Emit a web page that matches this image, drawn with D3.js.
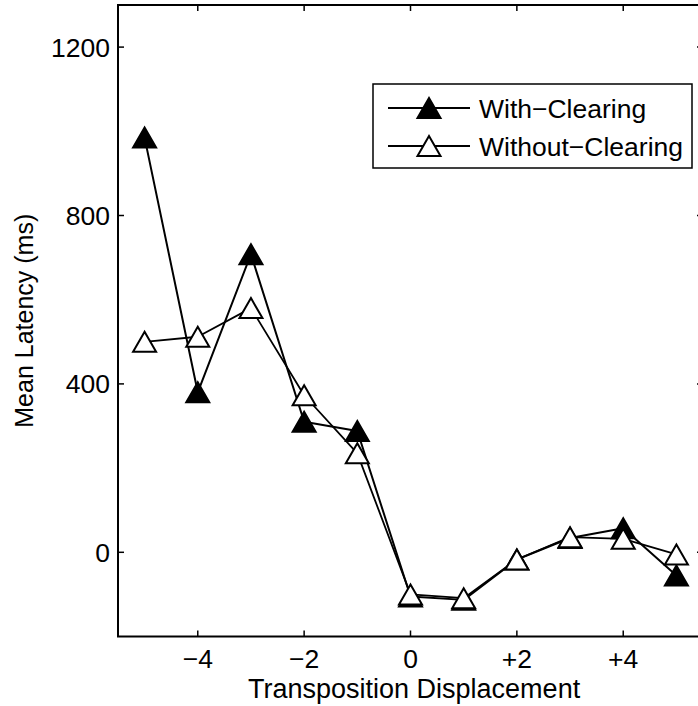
<!DOCTYPE html>
<html>
<head>
<meta charset="utf-8">
<script src="https://cdn.jsdelivr.net/npm/d3@7"></script>
<style>
  html, body { margin: 0; padding: 0; background: #fff; }
  svg { display: block; }
  text { font-family: "Liberation Sans", Arial, Helvetica, sans-serif; fill: #000; }
</style>
</head>
<body>
<svg id="chart" width="698" height="706"></svg>
<script>
// Transposition displacement (x) and mean latency in ms for each condition
const displacement = [-5, -4, -3, -2, -1, 0, 1, 2, 3, 4, 5];
const withClearing = [985, 380, 708, 310, 288, -105, -113, -17, 34, 57, -55];
const withoutClearing = [500, 512, 580, 373, 235, -100, -109, -17, 36, 32, -5];

const xTickValues = [-4, -2, 0, 2, 4];
const xTickLabels = ["\u22124", "\u22122", "0", "+2", "+4"];
const yTickValues = [0, 400, 800, 1200];

const seriesNames = ["With\u2212Clearing", "Without\u2212Clearing"];

const svg = d3.select("#chart");

const plotLeft = 118, plotRight = 703, plotTop = 5, plotBottom = 636.5;
const x = d3.scaleLinear().domain([-5.5, 5.5]).range([plotLeft, plotRight]);
const y = d3.scaleLinear().domain([-200, 1300]).range([plotBottom, plotTop]);

const fontSize = 26.5;
const tickLen = 6;

// Axis box
svg.append("rect")
  .attr("x", plotLeft).attr("y", plotTop)
  .attr("width", plotRight - plotLeft).attr("height", plotBottom - plotTop)
  .attr("fill", "none").attr("stroke", "#000").attr("stroke-width", 2);

// Inward ticks on all four sides
const ticks = svg.append("g").attr("stroke", "#000").attr("stroke-width", 1.5);
xTickValues.forEach(v => {
  ticks.append("line").attr("x1", x(v)).attr("x2", x(v)).attr("y1", plotBottom).attr("y2", plotBottom - tickLen);
  ticks.append("line").attr("x1", x(v)).attr("x2", x(v)).attr("y1", plotTop).attr("y2", plotTop + tickLen);
});
yTickValues.forEach(v => {
  ticks.append("line").attr("x1", plotLeft).attr("x2", plotLeft + tickLen).attr("y1", y(v)).attr("y2", y(v));
  ticks.append("line").attr("x1", plotRight).attr("x2", plotRight - tickLen).attr("y1", y(v)).attr("y2", y(v));
});

// Tick labels
svg.append("g").selectAll("text").data(xTickValues).join("text")
  .attr("x", d => x(d)).attr("y", 668)
  .attr("text-anchor", "middle").attr("font-size", fontSize)
  .text((d, i) => xTickLabels[i]);

svg.append("g").selectAll("text").data(yTickValues).join("text")
  .attr("x", 110).attr("y", d => y(d) + 9.5)
  .attr("text-anchor", "end").attr("font-size", fontSize)
  .text(d => d);

// Axis titles
svg.append("text")
  .attr("x", 248).attr("y", 698)
  .attr("font-size", 27)
  .text("Transposition Displacement");

svg.append("text")
  .attr("transform", `translate(33, ${(plotTop + plotBottom) / 2}) rotate(-90)`)
  .attr("text-anchor", "middle").attr("font-size", 25)
  .text("Mean Latency (ms)");

// Triangle marker centred on its point
const triHalfW = 11.5, triHalfH = 10;
const tri = `M0,${-triHalfH}L${triHalfW},${triHalfH}L${-triHalfW},${triHalfH}Z`;

const line = d3.line().x(d => x(d[0])).y(d => y(d[1]));

function drawSeries(values, fill, width) {
  const pts = displacement.map((d, i) => [d, values[i]]);
  const g = svg.append("g");
  g.append("path").attr("d", line(pts))
    .attr("fill", "none").attr("stroke", "#000").attr("stroke-width", width)
    .attr("stroke-linejoin", "round");
  g.selectAll("path.m").data(pts).join("path").attr("class", "m")
    .attr("d", tri)
    .attr("transform", d => `translate(${x(d[0])},${y(d[1])})`)
    .attr("fill", fill).attr("stroke", "#000").attr("stroke-width", 2)
    .attr("stroke-linejoin", "miter");
}

drawSeries(withClearing, "#000", 2);
drawSeries(withoutClearing, "#fff", 1.8);

// Legend
const lg = svg.append("g");
lg.append("rect")
  .attr("x", 373).attr("y", 84).attr("width", 319).attr("height", 84)
  .attr("fill", "#fff").attr("stroke", "#000").attr("stroke-width", 1.5);
const rows = [[108, "#000", 2], [146, "#fff", 1.8]];
rows.forEach(([ry, fill, w], i) => {
  lg.append("line").attr("x1", 388).attr("x2", 470).attr("y1", ry).attr("y2", ry)
    .attr("stroke", "#000").attr("stroke-width", w);
  lg.append("path").attr("d", tri).attr("transform", `translate(429,${ry})`)
    .attr("fill", fill).attr("stroke", "#000").attr("stroke-width", 2);
  lg.append("text").attr("x", 479).attr("y", ry + 9.5)
    .attr("font-size", fontSize).text(seriesNames[i]);
});
</script>
</body>
</html>
